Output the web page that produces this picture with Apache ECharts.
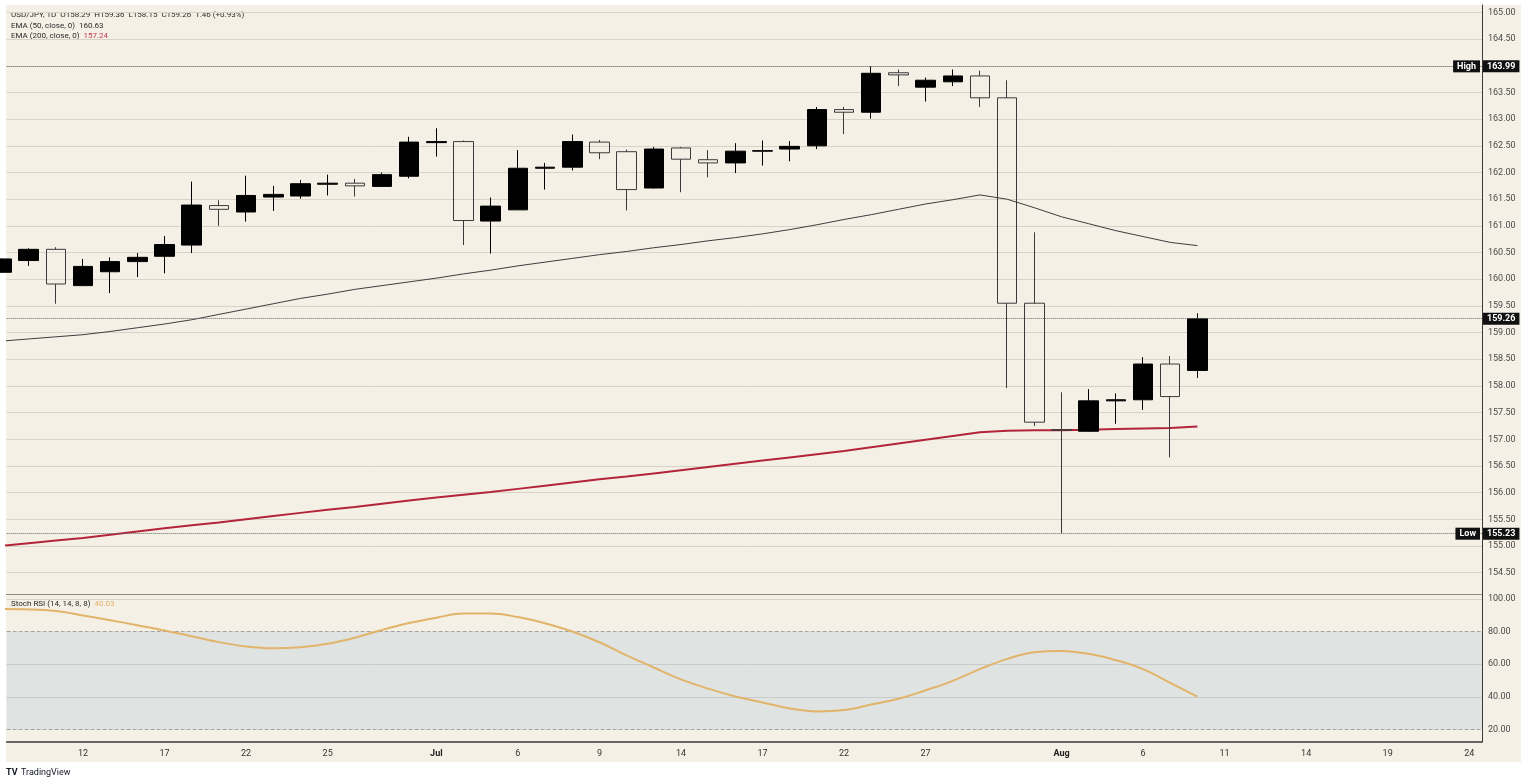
<!DOCTYPE html>
<html lang="en">
<head>
<meta charset="utf-8">
<title>USD/JPY 1D</title>
<script src="https://cdn.jsdelivr.net/npm/echarts@6.0.0/dist/echarts.min.js"></script>
<style>
  html, body { margin: 0; padding: 0; background: #ffffff; }
  #panel { position: absolute; left: 6px; top: 5px; width: 1515px; height: 757px; background: #f5f0e6; }
  #chart { position: absolute; left: 0; top: 0; width: 1528px; height: 784px; }
</style>
</head>
<body>
<div id="panel"></div>
<div id="chart"></div>
<script>
// trading days on the x axis (weekdays, incl. empty future slots)
const dates = [
  '06-09','06-10','06-11','06-12','06-15','06-16','06-17','06-18','06-19','06-22',
  '06-23','06-24','06-25','06-26','06-29','06-30','07-01','07-02','07-03','07-06',
  '07-07','07-08','07-09','07-10','07-13','07-14','07-15','07-16','07-17','07-20',
  '07-21','07-22','07-23','07-24','07-27','07-28','07-29','07-30','07-31','08-03',
  '08-04','08-05','08-06','08-07','08-10','08-11','08-12','08-13','08-14','08-17',
  '08-18','08-19','08-20','08-21','08-24'
];
const tickDates  = ['06-12','06-17','06-22','06-25','07-01','07-06','07-09','07-14','07-17','07-22','07-27','08-03','08-06','08-11','08-14','08-19','08-24'];
const tickLabels = ['12','17','22','25','Jul','6','9','14','17','22','27','Aug','6','11','14','19','24'];

// OHLC per candle
const open = [
  160.13,160.35,160.56,159.88,160.14,160.33,160.43,160.64,161.38,161.26,
  161.54,161.56,161.78,161.80,161.74,161.93,162.56,162.58,161.09,161.30,
  162.08,162.10,162.57,162.39,161.71,162.46,162.24,162.18,162.40,162.44,
  162.50,163.18,163.13,163.87,163.60,163.70,163.81,163.40,159.55,157.18,
  157.15,157.72,157.74,158.41,158.29
];
const close = [
  160.38,160.56,159.91,160.24,160.33,160.41,160.65,161.39,161.31,161.57,
  161.59,161.79,161.80,161.75,161.96,162.57,162.58,161.10,161.37,162.08,
  162.10,162.58,162.37,161.68,162.44,162.25,162.18,162.40,162.41,162.49,
  163.18,163.13,163.86,163.83,163.73,163.81,163.40,159.55,157.32,157.17,
  157.72,157.74,158.41,157.80,159.26
];
const low = [
  160.12,160.25,159.54,159.87,159.74,160.04,160.11,160.49,161.00,161.08,
  161.28,161.51,161.57,161.55,161.73,161.89,162.30,160.64,160.48,161.30,
  161.68,162.04,162.25,161.29,161.70,161.63,161.91,161.99,162.13,162.21,
  162.44,162.72,163.01,163.62,163.33,163.62,163.23,157.96,157.25,155.23,
  157.14,157.29,157.55,156.66,158.15
];
const high = [
  160.39,160.58,160.60,160.38,160.41,160.49,160.81,161.83,161.48,161.94,
  161.75,161.86,161.96,161.88,162.00,162.67,162.83,162.60,161.53,162.42,
  162.18,162.71,162.61,162.43,162.48,162.48,162.42,162.55,162.60,162.59,
  163.23,163.23,163.99,163.93,163.78,163.93,163.91,163.73,160.88,157.88,
  157.94,157.86,158.54,158.56,159.36
];

const ema50 = [
  158.84,158.88,158.92,158.96,159.02,159.09,159.16,159.24,159.34,159.44,
  159.54,159.64,159.72,159.81,159.88,159.95,160.02,160.10,160.17,160.25,
  160.32,160.39,160.46,160.52,160.59,160.65,160.72,160.78,160.85,160.93,
  161.02,161.12,161.21,161.31,161.41,161.49,161.58,161.50,161.34,161.17,
  161.04,160.91,160.80,160.69,160.63
];
const ema200 = [
  155.00,155.05,155.10,155.15,155.21,155.27,155.33,155.39,155.44,155.50,
  155.56,155.62,155.68,155.73,155.79,155.85,155.91,155.96,156.01,156.07,
  156.13,156.19,156.25,156.30,156.36,156.42,156.48,156.54,156.60,156.66,
  156.72,156.78,156.85,156.92,156.99,157.06,157.13,157.16,157.17,157.17,
  157.18,157.19,157.20,157.21,157.24
];
const stochRsi = [
  93.9,93.7,92.7,90.0,87.1,84.0,80.8,77.2,73.6,70.9,
  69.8,70.5,72.6,76.3,81.1,85.3,88.6,91.2,91.2,89.0,
  85.2,80.1,73.5,65.5,58.0,50.7,45.0,40.2,36.5,32.8,
  31.0,31.8,35.2,38.8,44.0,49.8,57.0,63.3,67.4,68.2,
  66.4,62.5,57.0,48.6,40.03
];
const stochLevels = [20, 40, 60, 80, 100];

const n = close.length;
const candles = open.map((o, i) => [i, o, close[i], low[i], high[i]]);
const hi = Math.max(...high);
const lo = Math.min(...low);
const last = close[n - 1];
const chg = last - close[n - 2];
const tickIdx = tickDates.map(d => dates.indexOf(d));
const xMin = 0.193, xMax = 54.47;
const yMin = 154, yMax = 165.14;
const FONT = 'Roboto, "Noto Sans", sans-serif';

const chart = echarts.init(document.getElementById('chart'), null, { renderer: 'canvas' });
chart.setOption({
  animation: false,
  backgroundColor: 'transparent',
  textStyle: { fontFamily: FONT },
  grid: [
    { left: 6.7, right: 46, top: 5, bottom: 184.7 },
    { left: 6.7, right: 46, top: 595, bottom: 42 }
  ],
  xAxis: [
    { type: 'value', gridIndex: 0, min: xMin, max: xMax, show: false },
    {
      type: 'value', gridIndex: 1, min: xMin, max: xMax,
      axisLine: { show: true, lineStyle: { color: '#3a3a3a', width: 1.5 } },
      axisTick: { show: false },
      splitLine: { show: false },
      axisLabel: {
        customValues: tickIdx,
        margin: 7,
        fontSize: 9,
        color: '#333',
        formatter: v => {
          const t = tickLabels[tickIdx.indexOf(v)];
          return (t === 'Jul' || t === 'Aug') ? '{m|' + t + '}' : t;
        },
        rich: { m: { fontSize: 9, fontWeight: 'bold', color: '#222' } }
      }
    }
  ],
  yAxis: [
    {
      type: 'value', gridIndex: 0, position: 'right', min: yMin, max: yMax, interval: 0.5,
      axisLine: { show: true, lineStyle: { color: '#3a3a3a', width: 1 } },
      axisTick: { show: false },
      splitLine: { showMaxLine: false, lineStyle: { color: '#d9d3c7', width: 1 } },
      axisLabel: {
        margin: 6, fontSize: 9, color: '#4a4a4a',
        showMinLabel: false, showMaxLabel: false,
        formatter: v => v.toFixed(2)
      }
    },
    {
      type: 'value', gridIndex: 0, position: 'right', min: yMin, max: yMax, z: 10,
      axisLine: { show: false }, axisTick: { show: false }, splitLine: { show: false },
      axisLabel: {
        customValues: [hi, last, lo],
        margin: 1, fontSize: 9, fontWeight: 'bold', color: '#ffffff',
        backgroundColor: '#111111', padding: [2, 4, 1, 4],
        formatter: v => v.toFixed(2)
      }
    },
    {
      type: 'value', gridIndex: 0, position: 'right', min: yMin, max: yMax, z: 10,
      axisLine: { show: false }, axisTick: { show: false }, splitLine: { show: false },
      axisLabel: {
        inside: true,
        customValues: [hi, lo],
        margin: 2, fontSize: 9, fontWeight: 'bold', color: '#ffffff',
        backgroundColor: '#111111', padding: [2, 4, 1, 4],
        formatter: v => (v === hi ? 'High' : 'Low')
      }
    },
    {
      type: 'value', gridIndex: 1, position: 'right', min: 12.2, max: 102.56,
      axisLine: { show: true, lineStyle: { color: '#3a3a3a', width: 1 } },
      axisTick: { show: false },
      splitLine: { show: false },
      axisLabel: {
        customValues: stochLevels,
        margin: 6, fontSize: 9, color: '#4a4a4a',
        formatter: v => v.toFixed(2)
      }
    }
  ],
  series: [
    {
      name: 'EMA 50', type: 'line', xAxisIndex: 0, yAxisIndex: 0, z: 1,
      data: ema50.map((v, i) => [i, v]),
      showSymbol: false, silent: true,
      lineStyle: { color: '#3d3d3d', width: 1 }
    },
    {
      name: 'EMA 200', type: 'line', xAxisIndex: 0, yAxisIndex: 0, z: 1,
      data: ema200.map((v, i) => [i, v]),
      showSymbol: false, silent: true,
      lineStyle: { color: '#b3243a', width: 2 }
    },
    {
      name: 'USD/JPY', type: 'candlestick', xAxisIndex: 0, yAxisIndex: 0, z: 2,
      data: candles,
      barWidth: 20,
      itemStyle: {
        color: '#000000', borderColor: '#000000',
        color0: 'transparent', borderColor0: '#3a3a3a',
        borderWidth: 1
      },
      markLine: {
        silent: true, symbol: ['none', 'none'],
        label: { show: false },
        lineStyle: { type: 'dotted', color: '#666666', width: 1 },
        data: [{ yAxis: hi }, { yAxis: last }, { yAxis: lo }]
      }
    },
    {
      name: 'Stoch RSI', type: 'line', xAxisIndex: 1, yAxisIndex: 3,
      data: stochRsi.map((v, i) => [i, v]),
      smooth: 0.4, showSymbol: false, silent: true,
      lineStyle: { color: '#e2b46a', width: 2 },
      markArea: {
        silent: true,
        itemStyle: { color: '#dfe3e2' },
        data: [[{ yAxis: 20 }, { yAxis: 80 }]]
      },
      markLine: {
        silent: true, symbol: ['none', 'none'], z: 1,
        label: { show: false },
        data: [
          { yAxis: 80, lineStyle: { type: 'dashed', color: '#a3a3a3', width: 1 } },
          { yAxis: 20, lineStyle: { type: 'dashed', color: '#a3a3a3', width: 1 } },
          { yAxis: 60, lineStyle: { type: 'solid', color: '#c9cccb', width: 1 } },
          { yAxis: 40, lineStyle: { type: 'solid', color: '#c9cccb', width: 1 } }
        ]
      }
    }
  ],
  graphic: [
    {
      type: 'rect', left: 6, top: 594, z: 5, silent: true,
      shape: { width: 1476, height: 1 },
      style: { fill: '#8f8a82' }
    },
    {
      type: 'text', left: 11, top: 11, silent: true,
      style: {
        text: 'USD/JPY, 1D  O' + open[n - 1].toFixed(2) + '  H' + high[n - 1].toFixed(2) +
              '  L' + low[n - 1].toFixed(2) + '  C' + last.toFixed(2) + '  ' + chg.toFixed(2) +
              ' (+' + (chg / close[n - 2] * 100).toFixed(2) + '%)',
        font: '8px ' + FONT, fill: '#2a2a2a'
      }
    },
    {
      type: 'text', left: 11, top: 21.5, silent: true,
      style: {
        text: 'EMA (50, close, 0)  {v|' + ema50[n - 1].toFixed(2) + '}',
        font: '8px ' + FONT, fill: '#2a2a2a',
        rich: { v: { fill: '#2a2a2a', font: '8px ' + FONT } }
      }
    },
    {
      type: 'text', left: 11, top: 32, silent: true,
      style: {
        text: 'EMA (200, close, 0)  {v|' + ema200[n - 1].toFixed(2) + '}',
        font: '8px ' + FONT, fill: '#2a2a2a',
        rich: { v: { fill: '#c2404f', font: '8px ' + FONT } }
      }
    },
    {
      type: 'text', left: 11, top: 600, silent: true,
      style: {
        text: 'Stoch RSI (14, 14, 8, 8)  {v|' + stochRsi[n - 1].toFixed(2) + '}',
        font: '8px ' + FONT, fill: '#2a2a2a',
        rich: { v: { fill: '#e2b46a', font: '8px ' + FONT } }
      }
    },
    {
      type: 'text', left: 6, top: 768, silent: true,
      style: { text: 'TV', font: 'bold 9px ' + FONT, fill: '#131722' }
    },
    {
      type: 'text', left: 21, top: 768, silent: true,
      style: { text: 'TradingView', font: '9px ' + FONT, fill: '#131722' }
    }
  ]
});
</script>
</body>
</html>
